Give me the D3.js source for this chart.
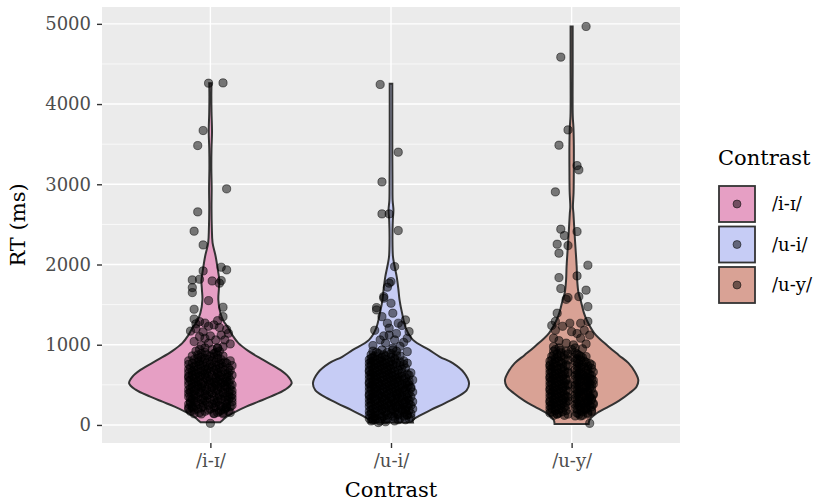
<!DOCTYPE html>
<html>
<head>
<meta charset="utf-8">
<script src="https://cdn.jsdelivr.net/npm/d3@7"></script>
<style>
  body { margin: 0; background: #fff; }
  text { font-family: "DejaVu Serif", serif; }
</style>
</head>
<body>
<svg id="violin" width="823" height="502"></svg>
<script>
// categories and legend colours
var categories = ["/i-ɪ/", "/u-i/", "/u-y/"];
var fills = ["#E69FC4", "#C6CCF5", "#D9A295"];
var yTicks = [0, 1000, 2000, 3000, 4000, 5000];
var yMinor = [500, 1500, 2500, 3500, 4500];

// violin outlines: [RT, relative density]
var violinI = [[34,0.12],[60,0.15],[104,0.2],[160,0.3],[228,0.44],[290,0.59],[353,0.74],[440,0.92],[520,1.0],[600,0.96],[686,0.86],[810,0.65],[920,0.47],[1020,0.345],[1120,0.27],[1226,0.21],[1300,0.16],[1395,0.123],[1558,0.098],[1700,0.105],[1800,0.11],[1933,0.092],[2100,0.065],[2270,0.027],[2450,0.018],[2700,0.014],[2950,0.016],[3200,0.012],[3450,0.014],[3650,0.02],[3900,0.014],[4100,0.012],[4260,0.014]];
var violinU = [[29,0.27],[62,0.27],[110,0.34],[187,0.49],[270,0.66],[353,0.82],[430,0.93],[520,0.96],[650,0.9],[770,0.76],[850,0.6],[935,0.47],[1060,0.27],[1200,0.185],[1400,0.135],[1560,0.105],[1700,0.09],[1850,0.07],[2000,0.04],[2100,0.024],[2300,0.018],[2550,0.022],[2680,0.03],[2800,0.02],[3000,0.018],[3500,0.016],[4000,0.016],[4252,0.016]];
var violinY = [[12,0.21],[62,0.22],[140,0.3],[228,0.455],[300,0.58],[395,0.71],[480,0.8],[561,0.82],[660,0.78],[770,0.7],[870,0.58],[976,0.455],[1143,0.28],[1309,0.185],[1400,0.15],[1558,0.11],[1645,0.085],[1808,0.068],[1975,0.062],[2200,0.048],[2390,0.036],[2640,0.022],[2718,0.016],[2900,0.024],[3200,0.027],[3500,0.027],[3716,0.022],[3850,0.014],[4500,0.013],[4967,0.013]];

// scattered points: [jitter (hundredths of a category step), RT]
var pointsI = [[-1,4260],[7,4264],[-4,3670],[-7,3483],[9,2943],[-7,2656],[-9,2415],[-4,2244],[6,1966],[9,1933],[-4,1920],[-10,1808],[-6,1816],[1,1795],[6,1800],[5,1767],[-10,1712],[-10,1650],[-1,1550],[-9,1442],[7,1467],[7,1350],[-6,1288],[-8,1260],[2,1247],[-3,1270],[5,1215],[10,1143],[-8,1200],[-4,1160],[-1,1019],[4,957],[8,1060],[-3,1080],[0,1110],[0,20],[-5,137],[2,145],[7,152],[9,228],[-10,210],
  [-9,1320],[4,1300],[-1,1230],[9,1190],[-11,1170],[6,1120],[-6,1100],[3,1060],[-9,1040],[11,1010],[-5,990],[7,975]];
var pointsU = [[-6,4244],[4,3400],[-5,3030],[-5,2631],[-1,2631],[4,2423],[2,1974],[0,1787],[-1,1767],[-2,1717],[-4,1580],[-8,1463],[0,1517],[-4,1600],[-8,1434],[1,1393],[-5,1350],[8,1309],[-2,1268],[4,1268],[-1,1206],[10,1163],[9,1081],[-6,1060],[2,1060],[-3,1020],[1,957],[9,914],[-10,62],[-7,30],[-3,40],[9,125],[8,187],
  [6,1240],[-9,1180],[3,1140],[-4,1110],[7,1030],[-10,990],[5,980],[-1,1120]];
var pointsY = [[8,4967],[-6,4585],[-2,3678],[-7,3487],[3,3233],[4,3180],[-9,2905],[-6,2440],[-4,2361],[-8,2253],[-2,2236],[-7,2141],[3,2411],[9,1991],[-7,1837],[3,1858],[-6,1700],[8,1680],[-2,1588],[4,1600],[-3,1566],[9,1475],[-8,1393],[-1,1268],[-9,1290],[5,1268],[9,1290],[0,1163],[7,1180],[-9,1180],[5,1081],[-10,1081],[1,998],[-10,976],[8,852],[2,112],[5,112],[10,20],[-8,137],[7,206],
  [-5,1230],[3,1140],[-7,1050],[8,1010],[-3,1020],[10,1120],[-11,1240],[6,950],[-6,930]];

// dense cluster rows: [RT, jitter, jitter, ...]
var denseI = [
  [140,-9,2,7],[155,-6,4,11],[170,-11,-3,5,10],[185,-9,-1,6],[200,-7,0,8,-12],[215,-12,-5,2,9],
  [230,-10,-4,3,11,6],[245,-8,-1,5,12],[260,-12,-6,1,9],[275,-11,-4,3,8],[290,-8,-2,4,12,-11],[305,-9,-3,2,9],
  [320,-10,0,6,-5,10],[335,-11,-4,4,12],[350,-12,-7,2,8,11],[365,-8,-2,5,10],[380,-9,-3,5,-1,12],[395,-12,-6,1,7],
  [410,-11,-6,0,7,10],[425,-9,-3,3,12],[440,-8,-2,4,11,-12],[455,-11,-5,2,8],[470,-10,-5,1,6,9],[485,-7,-3,4,11],
  [500,-12,-7,-1,3,8,12],[515,-10,-5,0,6],[530,-9,-4,2,7,10],[545,-12,-7,-1,4,9],[560,-11,-6,0,5,11],[575,-9,-2,3,8],
  [590,-8,-3,3,9,-12],[605,-12,-6,-1,5,10],[620,-10,-5,1,6,12],[635,-8,-3,4,9],[650,-12,-7,-2,4,10],[665,-10,-5,0,6],
  [680,-9,-4,2,8,11],[695,-12,-7,-2,3],[710,-11,-1,5,10],[725,-9,-3,1,7],[740,-8,-5,3,12],[755,-12,-6,0,5],
  [770,-10,-2,6,9],[785,-7,-4,3,8],[800,-12,-6,1,11],[815,-9,-1,6],[830,-7,-3,4],[845,-5,2],[860,-10,0,7],
  [875,-7,-2,4],[890,-5,2],[905,-3,3],[920,-8,5],[940,-6,1],[960,-3,4]
];
var denseU = [
  [50,-11,-6,2],[65,-9,-3,4,8],[80,-12,-8,-2,5,10],[95,-10,-5,2,11],[110,-9,-4,1,7],[125,-12,-7,-2,4,9],
  [140,-11,-6,0,4,11],[155,-9,-3,2,7],[170,-12,-8,-3,2,8],[185,-11,-5,0,6,10],[200,-10,-5,1,6,12],[215,-8,-3,3,8],
  [230,-12,-7,-2,3,9],[245,-11,-6,-1,4,11],[260,-9,-4,0,5,10],[275,-12,-7,-2,2,7],[290,-11,-6,-1,4,8,12],[305,-9,-4,1,6,10],
  [320,-12,-8,-3,2,7],[335,-11,-5,0,4,9],[350,-10,-5,0,6,11],[365,-12,-7,-3,3,8],[380,-12,-7,-2,3,9],[395,-10,-6,-1,4,10],
  [410,-9,-4,1,5,12],[425,-12,-8,-2,3,7],[440,-11,-6,-1,4,8],[455,-9,-4,1,6,11],[470,-12,-8,-3,2,7,11],[485,-11,-6,-1,4,9],
  [500,-10,-5,0,6,10],[515,-12,-7,-3,2,8],[530,-12,-7,-2,3,9],[545,-10,-5,0,4,10],[560,-9,-4,1,5,12],[575,-12,-8,-2,3,7],
  [590,-11,-6,-1,4,8],[605,-9,-4,1,6],[620,-12,-8,-3,2,10],[635,-11,-6,-1,4,9],[650,-10,-5,0,6,11],[665,-12,-8,-3,2],
  [680,-12,-7,-2,4],[695,-10,-5,0,6],[710,-9,-4,1,8],[725,-12,-7,-2,3],[740,-11,-6,-1,5],[755,-9,-4,1,7],
  [770,-12,-8,-3,3,9],[785,-11,-6,-1,5],[800,-10,-5,0,7],[815,-12,-8,-3,2],[830,-11,-6,2],[845,-10,-5,0],
  [860,-9,-3,5],[875,-11,-4,3],[890,-7,0],[905,-8,-2],[920,-10,3],[935,-5,1]
];
var denseY = [
  [120,-10,-4,6],[135,-8,-2,4,9],[150,-12,-7,3,9],[165,-11,-5,6,11],[180,-9,-3,5,11],[195,-12,-7,3,8],
  [210,-11,-6,2,8],[225,-9,-4,5,11],[240,-12,-8,-3,4,10],[255,-11,-6,2,7,12],[270,-10,-5,3,7,12],[285,-12,-8,-3,4,9],
  [300,-12,-7,-2,5,9],[315,-10,-5,3,8,11],[330,-9,-4,2,8,11],[345,-12,-7,-2,5,10],[360,-11,-6,-3,4,10],[375,-9,-4,2,7,12],
  [390,-12,-8,3,6,12],[405,-11,-6,4,9],[420,-10,-5,-2,5,9],[435,-12,-8,-3,3,8],[450,-12,-7,2,7,11],[465,-10,-5,5,10],
  [480,-9,-4,4,8],[495,-12,-7,-2,2,7,11],[510,-11,-6,-2,3,10,12],[525,-9,-4,4,9],[540,-12,-8,5,9],[555,-11,-6,-3,3,8,12],
  [570,-10,-5,-3,2,7,11],[585,-12,-8,5,10],[600,-12,-7,4,8],[615,-10,-5,2,7,11],[630,-9,-4,3,6,10],[645,-12,-7,-2,4,9],
  [660,-11,-6,-2,5,12],[675,-9,-4,3,8],[690,-12,-8,2,9],[705,-11,-6,5,11],[720,-10,-5,4,7],[735,-12,-8,-2,3,9],
  [750,-12,-3,6,11],[765,-10,-5,4,10],[780,-9,-6,3,8],[795,-12,-7,2,7],[810,-11,-2,5],[825,-9,-4,3],
  [840,-8,1,6],[855,-11,-6,5],[870,-10,-4,4],[885,-8,-2,3],[900,-6,2],[920,-10,-3],[940,-9,0],[960,-7,2]
];

var violins = [violinI, violinU, violinY];
var scattered = [pointsI, pointsU, pointsY];
var dense = [denseI, denseU, denseY];

var svg = d3.select("#violin");
var panel = {left: 102, right: 680, top: 7, bottom: 443};

var x = d3.scalePoint()
    .domain(categories)
    .range([panel.left, panel.right])
    .padding(0.6);
var step = x.step();

var y = d3.scaleLinear()
    .domain([-225, 5210])
    .range([panel.bottom, panel.top]);

// panel background + grid
svg.append("rect")
    .attr("x", panel.left)
    .attr("y", panel.top)
    .attr("width", panel.right - panel.left)
    .attr("height", panel.bottom - panel.top)
    .attr("fill", "#EBEBEB");

svg.selectAll(".minor")
    .data(yMinor)
    .enter().append("line")
    .attr("x1", panel.left).attr("x2", panel.right)
    .attr("y1", d => y(d)).attr("y2", d => y(d))
    .attr("stroke", "#fff").attr("stroke-width", 0.7);

svg.selectAll(".major")
    .data(yTicks)
    .enter().append("line")
    .attr("x1", panel.left).attr("x2", panel.right)
    .attr("y1", d => y(d)).attr("y2", d => y(d))
    .attr("stroke", "#fff").attr("stroke-width", 1.4);

svg.selectAll(".vmajor")
    .data(categories)
    .enter().append("line")
    .attr("x1", d => x(d)).attr("x2", d => x(d))
    .attr("y1", panel.top).attr("y2", panel.bottom)
    .attr("stroke", "#fff").attr("stroke-width", 1.4);

// violins
var halfW = d3.scaleLinear().domain([0, 1]).range([0, 0.45 * step]);

categories.forEach(function(c, i) {
    var area = d3.area()
        .curve(d3.curveCatmullRom)
        .y(d => y(d[0]))
        .x0(d => x(c) - halfW(d[1]))
        .x1(d => x(c) + halfW(d[1]));
    svg.append("path")
        .datum(violins[i])
        .attr("d", area)
        .attr("fill", fills[i])
        .attr("stroke", "#333")
        .attr("stroke-width", 2);
});

// jittered points
var pts = [];
categories.forEach(function(c, i) {
    scattered[i].forEach(function(p) { pts.push({cat: c, dx: p[0], rt: p[1]}); });
    dense[i].forEach(function(row) {
        row.slice(1).forEach(function(dx) { pts.push({cat: c, dx: dx, rt: row[0]}); });
    });
});

svg.append("g").selectAll("circle")
    .data(pts)
    .enter().append("circle")
    .attr("cx", d => x(d.cat) + step * d.dx / 100)
    .attr("cy", d => y(d.rt))
    .attr("r", 4.1)
    .attr("fill", "#000")
    .attr("fill-opacity", 0.5)
    .attr("stroke", "#000")
    .attr("stroke-opacity", 0.5)
    .attr("stroke-width", 1);

// axes
var yAxis = svg.append("g")
    .attr("transform", "translate(" + panel.left + ",0)")
    .call(d3.axisLeft(y).tickValues(yTicks).tickFormat(d3.format("d")).tickSize(5).tickPadding(6));
var xAxis = svg.append("g")
    .attr("transform", "translate(0," + panel.bottom + ")")
    .call(d3.axisBottom(x).tickSize(5).tickPadding(6));

[yAxis, xAxis].forEach(function(a) {
    a.select(".domain").remove();
    a.selectAll("line").attr("stroke", "#333").attr("stroke-width", 1.4);
    a.selectAll("text")
        .attr("fill", "#4D4D4D")
        .style("font-family", "DejaVu Serif")
        .style("font-size", "18px");
});

// axis titles
svg.append("text")
    .attr("x", (panel.left + panel.right) / 2)
    .attr("y", 497)
    .attr("text-anchor", "middle")
    .style("font-size", "21px")
    .text("Contrast");

svg.append("text")
    .attr("transform", "translate(25," + ((panel.top + panel.bottom) / 2) + ") rotate(-90)")
    .attr("text-anchor", "middle")
    .style("font-size", "21px")
    .text("RT (ms)");

// legend
var legend = svg.append("g").attr("transform", "translate(718,0)");

legend.append("text")
    .attr("x", 0)
    .attr("y", 165)
    .style("font-size", "21px")
    .text("Contrast");

var keys = legend.selectAll(".key")
    .data(categories)
    .enter().append("g")
    .attr("transform", (d, i) => "translate(0," + (185 + i * 40.5) + ")");

keys.append("rect")
    .attr("x", 1).attr("y", 1)
    .attr("width", 36).attr("height", 36)
    .attr("fill", (d, i) => fills[i])
    .attr("stroke", "#333")
    .attr("stroke-width", 1.8);

keys.append("circle")
    .attr("cx", 19).attr("cy", 19)
    .attr("r", 4)
    .attr("fill", "#000").attr("fill-opacity", 0.5)
    .attr("stroke", "#000").attr("stroke-opacity", 0.5);

keys.append("text")
    .attr("x", 54)
    .attr("y", 19)
    .attr("dy", "0.35em")
    .style("font-size", "18px")
    .text(d => d);
</script>
</body>
</html>
